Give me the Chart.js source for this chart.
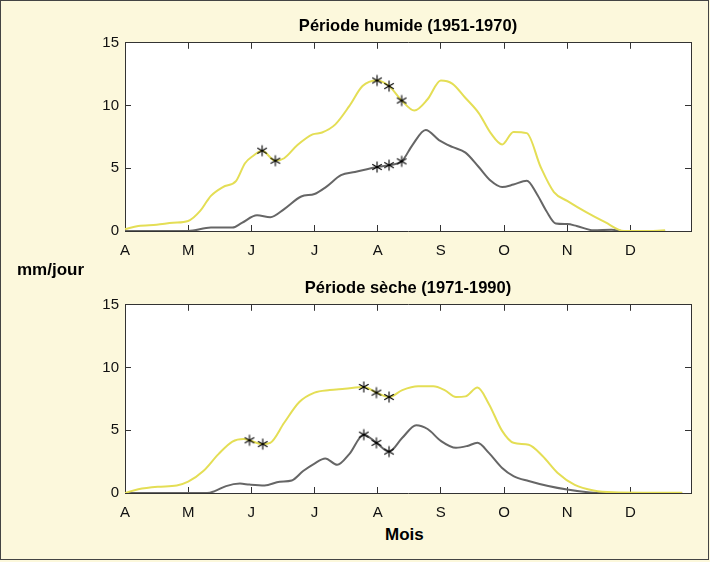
<!DOCTYPE html>
<html lang="fr">
<head>
    <meta charset="UTF-8">
    <title>Périodes humide et sèche</title>
    <script src="https://cdn.jsdelivr.net/npm/chart.js"></script>
    <style>
        body { margin: 0; background: #fcf8dc; font-family: "Liberation Sans", Arial, sans-serif; }
        #cadre { position: absolute; left: 0; top: 0; width: 707px; height: 558px; border: 1px solid #444; }
        .panneau { position: absolute; left: 0; width: 710px; height: 262px; }
        .etiquette { position: absolute; font-weight: bold; color: #000; white-space: nowrap; line-height: 20px; }
    </style>
</head>
<body>
<div id="cadre"></div>
<div class="panneau" style="top:0"><canvas id="chartHumide"></canvas></div>
<div class="panneau" style="top:262px"><canvas id="chartSeche"></canvas></div>
<div class="etiquette" style="left:17px; top:260px; font-size:17px;">mm/jour</div>
<div class="etiquette" style="left:385px; top:525px; font-size:17px;">Mois</div>

<script>
    // months, as tick labels (x in month units from 1 April)
    const mois = ['A', 'M', 'J', 'J', 'A', 'S', 'O', 'N', 'D'];
    const yTicks = [0, 5, 10, 15];

    // Période humide (1951-1970)
    const humideJauneX = [0, 0.21, 0.5, 0.76, 1.0, 1.19, 1.3, 1.36, 1.55, 1.76, 1.9, 2.03, 2.17, 2.38, 2.52, 2.73, 2.97, 3.12, 3.33, 3.55, 3.76, 3.99, 4.18, 4.38, 4.58, 4.79, 5.0, 5.18, 5.39, 5.6, 5.79, 5.97, 6.15, 6.36, 6.58, 6.79, 7.0, 7.3, 7.6, 7.9, 8.2, 8.55];
    const humideJauneY = [0.15, 0.4, 0.5, 0.65, 0.8, 1.6, 2.4, 2.8, 3.5, 4.0, 5.4, 6.0, 6.4, 5.6, 5.8, 6.85, 7.7, 7.85, 8.5, 9.95, 11.55, 12.0, 11.55, 10.4, 9.6, 10.5, 12.0, 11.75, 10.6, 9.4, 7.8, 6.9, 7.9, 7.8, 5.1, 3.1, 2.4, 1.5, 0.7, 0.0, 0.0, 0.05];
    const humideGrisX = [0, 1.0, 1.36, 1.7, 1.85, 2.09, 2.3, 2.52, 2.79, 3.0, 3.18, 3.42, 3.64, 3.99, 4.18, 4.38, 4.55, 4.76, 4.97, 5.18, 5.39, 5.6, 5.79, 5.97, 6.15, 6.36, 6.52, 6.67, 6.82, 7.0, 7.15, 7.42, 7.7, 7.9, 8.55];
    const humideGrisY = [0, 0, 0.27, 0.27, 0.65, 1.25, 1.1, 1.75, 2.75, 2.95, 3.5, 4.45, 4.7, 5.1, 5.25, 5.55, 6.85, 8.05, 7.25, 6.7, 6.25, 5.1, 4.0, 3.5, 3.7, 4.0, 2.95, 1.6, 0.6, 0.55, 0.4, 0.05, 0.1, 0, 0];
    const humideEtoilesX = [2.17, 2.38, 3.99, 4.18, 4.38, 3.99, 4.18, 4.38];
    const humideEtoilesY = [6.4, 5.6, 12.0, 11.55, 10.4, 5.1, 5.25, 5.55];

    // Période sèche (1971-1990)
    const secheJauneX = [0, 0.21, 0.52, 0.82, 1.0, 1.24, 1.48, 1.7, 1.88, 1.97, 2.18, 2.3, 2.52, 2.76, 3.0, 3.24, 3.48, 3.78, 3.98, 4.18, 4.39, 4.64, 4.88, 5.06, 5.24, 5.39, 5.58, 5.76, 5.97, 6.15, 6.39, 6.61, 6.85, 7.12, 7.42, 7.73, 8.2, 8.82];
    const secheJauneY = [0, 0.3, 0.5, 0.6, 0.9, 1.75, 3.1, 4.1, 4.3, 4.2, 3.9, 4.0, 5.6, 7.25, 8.0, 8.2, 8.3, 8.45, 8.0, 7.65, 8.2, 8.5, 8.5, 8.2, 7.65, 7.7, 8.4, 7.1, 4.95, 4.0, 3.85, 2.95, 1.6, 0.65, 0.2, 0.05, 0.02, 0.02];
    const secheGrisX = [0, 1.3, 1.42, 1.6, 1.82, 1.97, 2.21, 2.45, 2.64, 2.82, 3.0, 3.17, 3.36, 3.55, 3.78, 3.98, 4.18, 4.39, 4.61, 4.79, 5.0, 5.24, 5.42, 5.58, 5.76, 5.97, 6.15, 6.39, 6.7, 7.0, 7.36, 7.6, 8.82];
    const secheGrisY = [0, 0, 0.15, 0.55, 0.75, 0.67, 0.6, 0.9, 1.0, 1.75, 2.35, 2.75, 2.25, 3.1, 4.65, 4.0, 3.3, 4.4, 5.4, 5.1, 4.15, 3.6, 3.75, 4.0, 3.2, 2.0, 1.35, 0.95, 0.55, 0.27, 0.05, 0, 0];
    const secheEtoilesX = [1.97, 2.18, 3.78, 3.98, 4.18, 3.78, 3.98, 4.18];
    const secheEtoilesY = [4.2, 3.9, 8.45, 8.0, 7.65, 4.65, 4.0, 3.3];

    const xMax = 8.96;
    const jaune = '#e4de55';
    const gris = '#666666';
    const police = "'Liberation Sans', Arial, sans-serif";

    // 6-armed asterisk marker
    function asterisque() {
        const c = document.createElement('canvas');
        c.width = 14; c.height = 14;
        const g = c.getContext('2d');
        g.strokeStyle = '#000';
        g.lineWidth = 1.1;
        [90, 30, 150].forEach(a => {
            const r = a * Math.PI / 180, dx = Math.cos(r) * 5.5, dy = Math.sin(r) * 5.5;
            g.beginPath();
            g.moveTo(7 - dx, 7 - dy);
            g.lineTo(7 + dx, 7 + dy);
            g.stroke();
        });
        return c;
    }
    const marque = asterisque();

    // white plot area
    const fondBlanc = {
        id: 'fondBlanc',
        beforeDraw(chart) {
            const a = chart.chartArea, ctx = chart.ctx;
            ctx.save();
            ctx.fillStyle = '#ffffff';
            ctx.fillRect(a.left, a.top, a.right - a.left, a.bottom - a.top);
            ctx.restore();
        }
    };

    function points(xs, ys) {
        return xs.map((x, i) => ({ x: x, y: ys[i] }));
    }

    function axeCommun(extra) {
        return Object.assign({
            border: { display: true, color: '#333', width: 1 },
            grid: { drawOnChartArea: false, drawTicks: true, tickLength: -6, color: '#333', tickColor: '#333' }
        }, extra);
    }

    function graphique(id, titre, jx, jy, gx, gy, ex, ey) {
        new Chart(document.getElementById(id), {
            type: 'line',
            data: {
                datasets: [
                    { data: points(ex, ey), showLine: false, pointStyle: marque, pointRadius: 6, order: 0 },
                    { data: points(jx, jy), borderColor: jaune, borderWidth: 2, pointRadius: 0, cubicInterpolationMode: 'monotone', order: 1 },
                    { data: points(gx, gy), borderColor: gris, borderWidth: 2, pointRadius: 0, cubicInterpolationMode: 'monotone', order: 2 }
                ]
            },
            options: {
                responsive: false,
                animation: false,
                events: [],
                layout: { padding: { left: 0, right: 19, top: 0, bottom: 0 } },
                plugins: {
                    legend: { display: false },
                    tooltip: { enabled: false },
                    title: {
                        display: true, text: titre, fullSize: false, color: '#000',
                        font: { family: police, size: 16.5, weight: 'bold' },
                        padding: { top: 17, bottom: 6 }
                    }
                },
                scales: {
                    x: axeCommun({
                        type: 'linear', position: 'bottom', min: 0, max: xMax,
                        ticks: { stepSize: 1, padding: 17, color: '#111', font: { family: police, size: 15 },
                                 callback: v => mois[v] },
                        afterFit: s => { s.height = 31; }
                    }),
                    x2: axeCommun({
                        type: 'linear', position: 'top', min: 0, max: xMax,
                        ticks: { stepSize: 1, display: false },
                        afterFit: s => { s.height = 0; }
                    }),
                    y: axeCommun({
                        min: 0, max: 15, position: 'left',
                        afterBuildTicks: s => { s.ticks = yTicks.map(v => ({ value: v })); },
                        ticks: { padding: 12, color: '#111', font: { family: police, size: 15 } },
                        afterFit: s => { s.width = 125; }
                    }),
                    y2: axeCommun({
                        min: 0, max: 15, position: 'right',
                        afterBuildTicks: s => { s.ticks = yTicks.map(v => ({ value: v })); },
                        ticks: { display: false },
                        afterFit: s => { s.width = 0; }
                    })
                }
            },
            plugins: [fondBlanc]
        });
    }

    document.getElementById('chartHumide').width = 710;
    document.getElementById('chartHumide').height = 262;
    document.getElementById('chartSeche').width = 710;
    document.getElementById('chartSeche').height = 262;

    graphique('chartHumide', 'Période humide (1951-1970)', humideJauneX, humideJauneY, humideGrisX, humideGrisY, humideEtoilesX, humideEtoilesY);
    graphique('chartSeche', 'Période sèche (1971-1990)', secheJauneX, secheJauneY, secheGrisX, secheGrisY, secheEtoilesX, secheEtoilesY);
</script>
</body>
</html>
